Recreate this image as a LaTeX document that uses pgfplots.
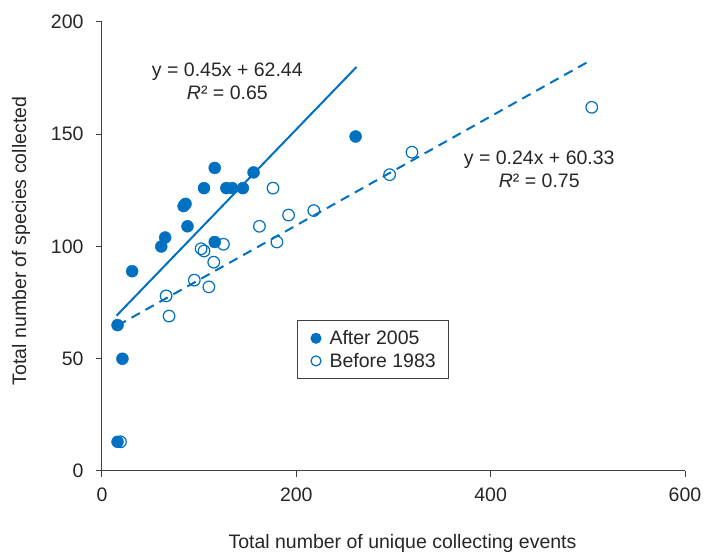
\documentclass[border=0pt]{standalone}
\usepackage{pgfplots}
\pgfplotsset{compat=1.18}
\usepackage{fontspec}
\setmainfont{Liberation Sans}
\definecolor{xlblue}{RGB}{0,112,192}
\definecolor{axgray}{RGB}{64,64,64}
\newcommand{\chartfont}{\fontsize{19.5}{23}\selectfont}

\pgfplotstableread{
x y
16 13
21 50
16 65
31 89
61 100
65 104
88 109
84 118
86 119
105 126
128 126
134 126
145 126
116 102
116 135
156 133
261 149
}\after

\pgfplotstableread{
x y
19 13
66 78
69 69
95 85
110 82
115 93
102 99
105 98
125 101
162 109
176 126
180 102
192 114
218 116
296 132
319 142
504 162
}\before

\begin{document}
\begin{tikzpicture}
\useasboundingbox (-102pt,-83pt) rectangle (603pt,471pt);
\begin{axis}[
    anchor=south west, at={(0pt,0pt)},
    scale only axis, width=583pt, height=449pt,
    xmin=0, xmax=600, ymin=0, ymax=200,
    xtick={0,200,400,600}, ytick={0,50,100,150,200},
    axis lines*=left,
    axis line style={axgray, line width=1pt},
    tick style={axgray, line width=1pt},
    tick align=outside, major tick length=6pt,
    /pgf/number format/assume math mode=true,
    tick label style={font=\chartfont, text=black!85},
    xticklabel style={yshift=-7pt},
    yticklabel style={xshift=-9pt},
    legend style={at={(rel axis cs:0.3345,0.3363)}, anchor=north west,
        draw=axgray, line width=1pt, font=\chartfont,
        inner xsep=11pt, inner ysep=8pt, row sep=3pt, text=black!85},
    legend cell align=left,
    legend image code/.code={\path (0pt,0pt) (18pt,0pt);
        \draw[#1, mark size=5pt] plot coordinates {(7pt,0pt)};},
    clip=false,
]
\addplot[only marks, mark=*, mark size=6pt, color=xlblue, mark options={fill=xlblue}]
    table {\after};
\addlegendentry{After 2005}
\addplot[only marks, mark=o, mark size=5.8pt, color=xlblue, mark options={line width=1.2pt, fill=white}]
    table {\before};
\addlegendentry{Before 1983}
\addplot[xlblue, line width=2pt, forget plot] coordinates {(15,69.2) (262,180)};
\addplot[xlblue, line width=2pt, dash pattern=on 9.5pt off 6.5pt, forget plot] coordinates {(16,64.8) (502,182.7)};
\node[font=\chartfont, text=black!85, align=center] at (axis cs:129,173.5)
    {y = 0.45x + 62.44\\\textit{R}² = 0.65};
\node[font=\chartfont, text=black!85, align=center] at (axis cs:450,134.5)
    {y = 0.24x + 60.33\\\textit{R}² = 0.75};
\end{axis}
\node[font=\chartfont, text=black!85, rotate=90] at (-81pt,230pt)
    {Total number of species collected};
\node[font=\chartfont, text=black!85] at (300.5pt,-72pt)
    {Total number of unique collecting events};
\end{tikzpicture}
\end{document}
